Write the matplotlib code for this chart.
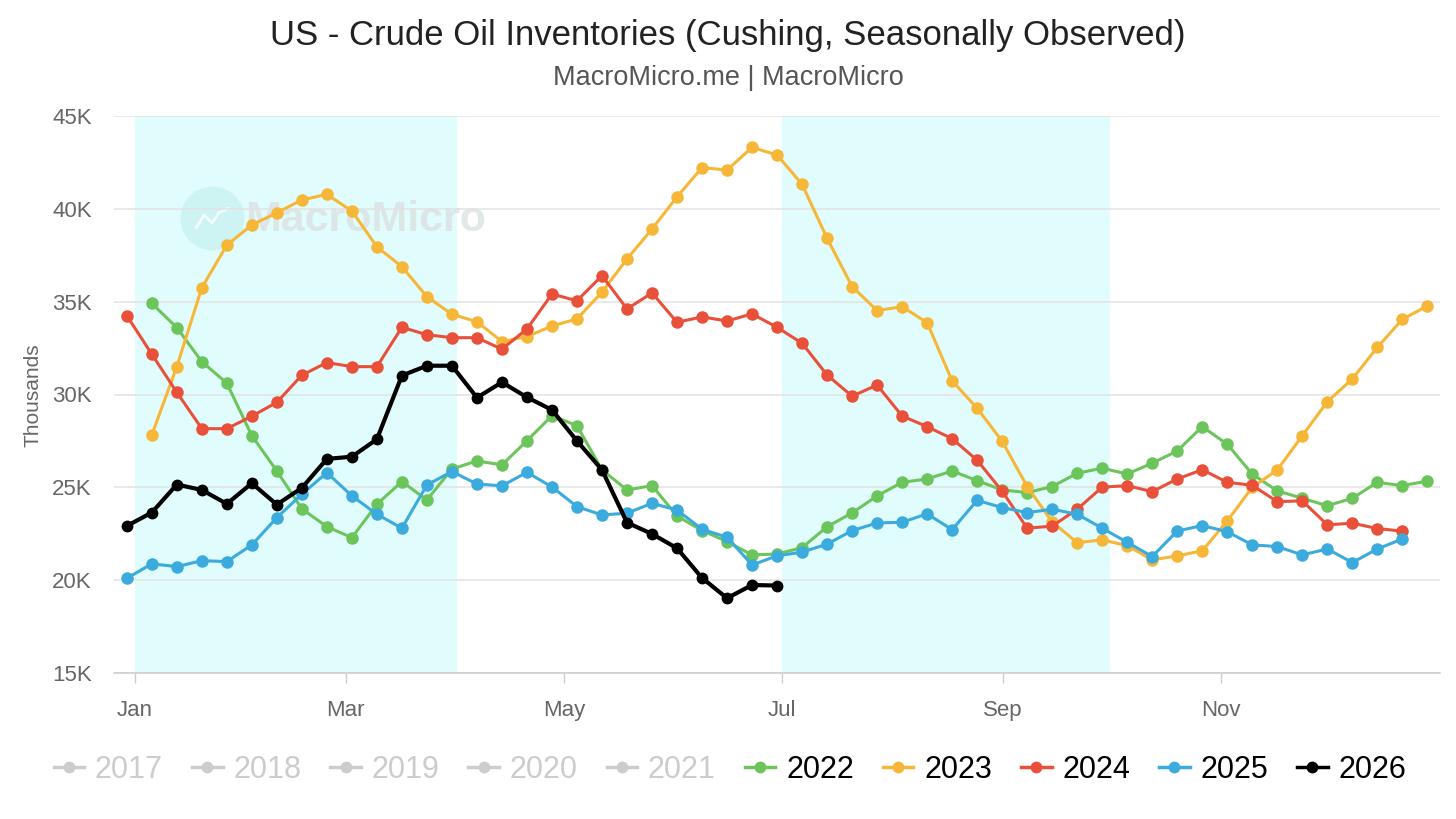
import numpy as np
import matplotlib
matplotlib.use("Agg")
import matplotlib.pyplot as plt
from matplotlib.lines import Line2D

plt.rcParams['font.family'] = ['Liberation Sans', 'DejaVu Sans']

# ---------------- data (thousands of barrels) ----------------
title = "US - Crude Oil Inventories (Cushing, Seasonally Observed)"
subtitle = "MacroMicro.me | MacroMicro"

month_ticks = [0, 59, 120, 181, 243, 304]          # day of year
month_labels = ["Jan", "Mar", "May", "Jul", "Sep", "Nov"]

hidden_years = ["2017", "2018", "2019", "2020", "2021"]
shown_years = ["2022", "2023", "2024", "2025", "2026"]

first_day = {"2022": 4.7, "2023": 4.7, "2024": -2.3, "2025": -2.3, "2026": -2.3}

v2022 = [34.91, 33.60, 31.77, 30.61, 27.78, 25.88, 23.84, 22.88, 22.29, 24.09,
         25.31, 24.32, 25.99, 26.42, 26.21, 27.51, 28.86, 28.32, 25.94, 24.86,
         25.09, 23.46, 22.67, 22.08, 21.36, 21.41, 21.75, 22.88, 23.62, 24.54,
         25.27, 25.45, 25.88, 25.36, 24.86, 24.72, 25.04, 25.76, 26.03, 25.72,
         26.30, 26.96, 28.27, 27.32, 25.71, 24.81, 24.41, 24.01, 24.41, 25.27,
         25.09, 25.34]
v2023 = [27.82, 31.50, 35.75, 38.05, 39.13, 39.79, 40.48, 40.78, 39.88, 37.96,
         36.88, 35.27, 34.32, 33.92, 32.85, 33.12, 33.69, 34.07, 35.51, 37.30,
         38.91, 40.65, 42.22, 42.09, 43.31, 42.90, 41.32, 38.41, 35.81, 34.52,
         34.73, 33.87, 30.73, 29.26, 27.48, 25.04, 23.14, 22.02, 22.17, 21.86,
         21.09, 21.31, 21.58, 23.19, 25.00, 25.94, 27.78, 29.61, 30.84, 32.54,
         34.05, 34.77]
v2024 = [34.25, 32.17, 30.12, 28.16, 28.16, 28.83, 29.58, 31.04, 31.72, 31.50,
         31.50, 33.62, 33.22, 33.06, 33.06, 32.44, 33.53, 35.41, 35.05, 36.40,
         34.61, 35.47, 33.89, 34.18, 33.96, 34.34, 33.62, 32.76, 31.05, 29.91,
         30.51, 28.84, 28.27, 27.62, 26.46, 24.79, 22.80, 22.91, 23.82, 25.01,
         25.09, 24.77, 25.45, 25.95, 25.27, 25.11, 24.23, 24.27, 22.98, 23.07,
         22.78, 22.64]
v2025 = [20.10, 20.88, 20.73, 21.05, 21.00, 21.90, 23.37, 24.63, 25.79, 24.54,
         23.55, 22.80, 25.13, 25.85, 25.18, 25.08, 25.81, 25.02, 23.96, 23.51,
         23.61, 24.14, 23.78, 22.74, 22.31, 20.82, 21.31, 21.51, 21.94, 22.67,
         23.08, 23.12, 23.57, 22.72, 24.30, 23.91, 23.64, 23.82, 23.55, 22.80,
         22.04, 21.27, 22.65, 22.94, 22.61, 21.90, 21.81, 21.36, 21.68, 20.95,
         21.68, 22.22]
v2026 = [22.92, 23.64, 25.15, 24.86, 24.11, 25.22, 24.07, 24.97, 26.53, 26.65,
         27.59, 31.02, 31.55, 31.55, 29.83, 30.66, 29.85, 29.17, 27.50, 25.94,
         23.10, 22.49, 21.72, 20.12, 19.03, 19.74, 19.71]

values = {"2022": v2022, "2023": v2023, "2024": v2024, "2025": v2025, "2026": v2026}
colors = {"2022": "#6CC55A", "2023": "#F6B637", "2024": "#E8503A",
          "2025": "#3AABDC", "2026": "#000000"}
hidden_color = "#CCCCCC"

# ---------------- figure ----------------
W, H = 1456, 819
fig = plt.figure(figsize=(W / 100, H / 100), dpi=100)
L, R, T, B = 114, 1440, 116, 673
ax = fig.add_axes([L / W, 1 - B / H, (R - L) / W, (B - T) / H])

ax.set_xlim(-5.88, 365.24)
ax.set_ylim(15, 45)

# shaded quarters
ax.axvspan(0, 90, color="#E0FCFC", zorder=0.1, lw=0)
ax.axvspan(181, 273, color="#E0FCFC", zorder=0.1, lw=0)

# watermark
ax.plot([0.074], [0.817], marker="o", ms=46, color="#CBF4F1", alpha=0.9,
        transform=ax.transAxes, zorder=0.3, mec="none")
ax.plot([0.062, 0.068, 0.074, 0.079, 0.086], [0.800, 0.822, 0.808, 0.826, 0.834],
        color="white", lw=2, alpha=0.8, transform=ax.transAxes, zorder=0.35)
ax.text(0.099, 0.813, "MacroMicro", transform=ax.transAxes, fontsize=31,
        fontweight="bold", color="#DDE3E4", alpha=0.85, va="center", ha="left",
        zorder=0.3)

# series
for yr in shown_years:
    vals = values[yr]
    x = first_day[yr] + 7 * np.arange(len(vals))
    if yr == "2026":
        ax.plot(x, vals, color=colors[yr], lw=3.0, marker="o", ms=8.5,
                mec="none", zorder=5, solid_joinstyle="round")
    else:
        ax.plot(x, vals, color=colors[yr], lw=2.2, marker="o", ms=9,
                mec="none", zorder=3, solid_joinstyle="round")

# axes styling
ax.set_axisbelow(True)
ax.set_yticks([15, 20, 25, 30, 35, 40, 45])
ax.set_yticklabels([f"{v}K" for v in [15, 20, 25, 30, 35, 40, 45]])
ax.yaxis.grid(True, color="#E3E3E3", lw=1.1)
ax.set_xticks(month_ticks)
ax.set_xticklabels(month_labels)
for s in ["top", "right", "left"]:
    ax.spines[s].set_visible(False)
ax.spines["bottom"].set_color("#CCCCCC")
ax.spines["bottom"].set_linewidth(1.1)
ax.tick_params(axis="y", length=0, pad=16, labelsize=16, labelcolor="#666666")
ax.tick_params(axis="x", length=7.5, width=1, color="#CCCCCC", pad=12,
               labelsize=16, labelcolor="#666666")

# titles
fig.text(0.5, 1 - 35 / H, title, ha="center", va="center", fontsize=25,
         color="#222222")
fig.text(0.5, 1 - 78 / H, subtitle, ha="center", va="center", fontsize=19.5,
         color="#555555")
fig.text(33 / W, 1 - 395 / H, "Thousands", rotation=90, ha="center",
         va="center", fontsize=15, color="#666666")

# legend
handles, labels = [], []
for yr in hidden_years:
    handles.append(Line2D([], [], color=hidden_color, lw=2.5, marker="o", ms=8.5,
                          mec="none"))
    labels.append(yr)
for yr in shown_years:
    handles.append(Line2D([], [], color=colors[yr], lw=2.5, marker="o", ms=8.5,
                          mec="none"))
    labels.append(yr)
leg = fig.legend(handles, labels, loc="center", bbox_to_anchor=(730 / W, 1 - 770 / H),
                 ncol=10, frameon=False, fontsize=22, handlelength=1.0,
                 handletextpad=0.35, columnspacing=0.95, borderpad=0)
for t, lab in zip(leg.get_texts(), labels):
    t.set_color(hidden_color if lab in hidden_years else "#000000")

fig.savefig("out.png", dpi=100)
